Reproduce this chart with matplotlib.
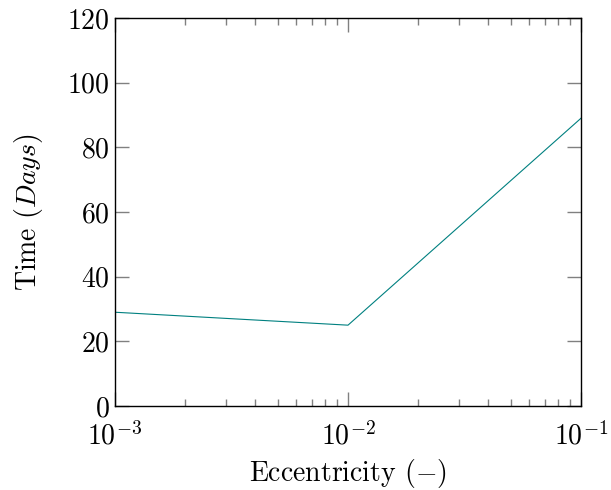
import matplotlib
matplotlib.use("Agg")
import matplotlib.pyplot as plt
from matplotlib.ticker import LogLocator, NullFormatter

eccentricity = [1e-3, 1e-2, 1e-1]
time_days = [29, 25, 89]
y_ticks = [0, 20, 40, 60, 80, 100, 120]

plt.rcParams["font.family"] = "serif"
plt.rcParams["font.serif"] = ["cmr10", "DejaVu Serif"]
plt.rcParams["mathtext.fontset"] = "cm"
plt.rcParams["axes.formatter.use_mathtext"] = True

fig = plt.figure(figsize=(6.11, 4.90), dpi=100)
ax = fig.add_axes([115 / 611, 1 - 406 / 490, 466 / 611, 388 / 490])

ax.plot(eccentricity, time_days, color="#008080", linewidth=0.8)

ax.set_xscale("log")
ax.set_xlim(1e-3, 1e-1)
ax.set_ylim(0, 120)
ax.set_yticks(y_ticks)
ax.xaxis.set_minor_locator(LogLocator(base=10, subs=range(2, 10)))
ax.xaxis.set_minor_formatter(NullFormatter())

ax.tick_params(which="both", direction="in", top=True, right=True,
               color="#808080", labelsize=20, width=1)
ax.tick_params(which="major", length=10, pad=4)
ax.tick_params(axis="x", which="major", pad=11)
ax.tick_params(which="minor", length=5)
for s in ax.spines.values():
    s.set_linewidth(1)

ax.set_xlabel("Eccentricity ($-$)", fontsize=20, labelpad=5)
ax.set_ylabel("Time ($Days$)", fontsize=20, labelpad=16)

fig.savefig("out.png", dpi=100)
